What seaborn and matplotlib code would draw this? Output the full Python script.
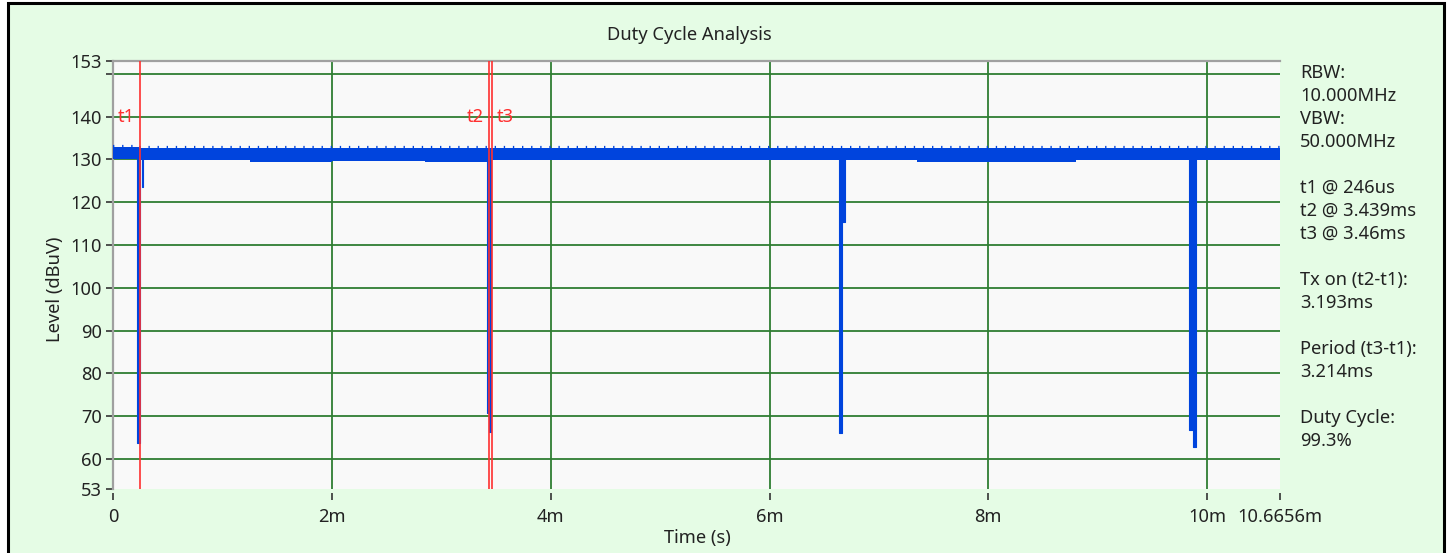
import matplotlib
matplotlib.use("Agg")
import matplotlib.pyplot as plt
import seaborn as sns
import pandas as pd
from matplotlib.patches import Rectangle

# ---------------- data ----------------
title = "Duty Cycle Analysis"
x_label = "Time (s)"
y_label = "Level (dBuV)"

x_ticks = [0, 2, 4, 6, 8, 10, 10.6656]          # ms
x_tick_labels = ["0", "2m", "4m", "6m", "8m", "10m", "10.6656m"]
y_ticks = [53, 60, 70, 80, 90, 100, 110, 120, 130, 140, 150, 153]
y_tick_labels = ["53", "60", "70", "80", "90", "100", "110", "120", "130", "140", "", "153"]
x_grid = [2, 4, 6, 8, 10]
y_grid = [60, 70, 80, 90, 100, 110, 120, 130, 140, 150]

# noise band of the trace (time in ms, level in dBuV)
band_t = [0.0, 0.24, 1.25, 2.0, 2.85, 3.46, 7.35, 8.8, 10.6656]
band_upper = [132.9, 132.6, 132.6, 132.7, 132.7, 132.6, 132.6, 132.6, 132.6]
band_lower = [130.1, 129.9, 129.5, 129.7, 129.3, 129.9, 129.5, 129.9, 129.9]
baseline_level = 131.3

# dips (Tx off gaps)
dip_start = [0.217, 0.262, 3.420, 3.440, 6.635, 6.662, 9.838, 9.866]
dip_end = [0.247, 0.274, 3.440, 3.455, 6.662, 6.694, 9.866, 9.898]
dip_floor = [63.7, 123.6, 70.7, 66.3, 66.0, 115.5, 66.8, 62.7]

marker_names = ["t1", "t2", "t3"]
marker_times = [0.246, 3.439, 3.46]
marker_side = ["left", "left", "right"]
marker_label_level = 139.9

info_lines = ["RBW:", "10.000MHz", "VBW:", "50.000MHz", "",
              "t1 @ 246us", "t2 @ 3.439ms", "t3 @ 3.46ms", "",
              "Tx on (t2-t1):", "3.193ms", "",
              "Period (t3-t1):", "3.214ms", "",
              "Duty Cycle:", "99.3%"]

# ---------------- style ----------------
sns.set_style("white")
plt.rcParams["font.family"] = ["Noto Sans", "DejaVu Sans"]
FS = 13.2
TXT = "#222222"
BLUE = "#0044DD"
GREEN = "#2F7D32"
RED = "#FF3030"
BG = "#E5FCE5"

W, H = 1451, 553
fig = plt.figure(figsize=(W / 100, H / 100), dpi=100)
fig.patch.set_facecolor("white")
fig.patches.append(Rectangle((8 / W, -0.05), 1436 / W, 1.05 - 2.5 / H,
                             transform=fig.transFigure, facecolor=BG,
                             edgecolor="black", linewidth=2.2, zorder=-10))

ax = fig.add_axes([113 / W, 1 - 489 / H, (1280 - 113) / W, (489 - 61) / H])
ax.set_zorder(1)
ax.set_facecolor("#F9F9F9")

# grid lines
for gx in x_grid:
    ax.axvline(gx, color=GREEN, lw=1.3, zorder=1)
for gy in y_grid:
    ax.axhline(gy, color=GREEN, lw=1.3, zorder=1)

# trace outline including dips
pts_t, pts_l = [0.0], [baseline_level]
for s, e, f in zip(dip_start, dip_end, dip_floor):
    pts_t += [s, s, e, e]
    pts_l += [baseline_level, f, f, baseline_level]
pts_t.append(x_ticks[-1])
pts_l.append(baseline_level)
trace = pd.DataFrame({"time": pts_t, "level": pts_l})

ax.fill_between(trace["time"], trace["level"], baseline_level, color=BLUE, lw=0, zorder=3)
sns.lineplot(data=trace, x="time", y="level", estimator=None, sort=False,
             color=BLUE, lw=0.8, ax=ax, zorder=3)

band = pd.DataFrame({"time": band_t, "upper": band_upper, "lower": band_lower})
ax.fill_between(band["time"], band["lower"], band["upper"], step="post",
                color=BLUE, lw=0, zorder=3)
ax.step(band["time"], band["upper"] + 0.25, where="post", color=BLUE,
        lw=1.6, linestyle=(0, (0.6, 3.5)), zorder=3)

for name, t, side in zip(marker_names, marker_times, marker_side):
    ax.axvline(t, color=RED, lw=1.2, zorder=4)
    off = -5 if side == "left" else 5
    ax.annotate(name, xy=(t, marker_label_level), xytext=(off, 0),
                textcoords="offset pixels", ha="right" if side == "left" else "left",
                va="center", color=RED, fontsize=FS, zorder=5)

# axes
ax.set_xlim(0, x_ticks[-1])
ax.set_ylim(53, 153)
ax.set_xticks(x_ticks)
ax.set_xticklabels(x_tick_labels)
ax.set_yticks(y_ticks)
ax.set_yticklabels(y_tick_labels)
ax.grid(False)
ax.tick_params(which="major", direction="out", length=5, width=1.2, color="#333333",
               labelsize=FS, labelcolor=TXT, left=True, bottom=True)
ax.tick_params(axis="y", pad=3)
ax.tick_params(axis="x", pad=6)
ax.spines["bottom"].set_position(("outward", 3))
ax.spines["bottom"].set_visible(False)
ax.spines["right"].set_visible(False)
for sp in ("left", "top"):
    ax.spines[sp].set_color("#A0A0A0")
    ax.spines[sp].set_linewidth(1.6)
ax.set_xlabel("")
ax.set_ylabel("")

fig.text(689 / W, 1 - 35 / H, title, ha="center", va="center", fontsize=FS, color=TXT)
fig.text(697 / W, 1 - 538 / H, x_label, ha="center", va="center", fontsize=FS, color=TXT)
fig.text(55 / W, 1 - 289 / H, y_label, ha="center", va="center", rotation=90,
         fontsize=FS, color=TXT)

for i, line in enumerate(info_lines):
    if line:
        fig.text(1300 / W, 1 - (73 + 23 * i) / H, line, ha="left", va="center",
                 fontsize=FS, color=TXT)

fig.savefig("out.png", dpi=100)
